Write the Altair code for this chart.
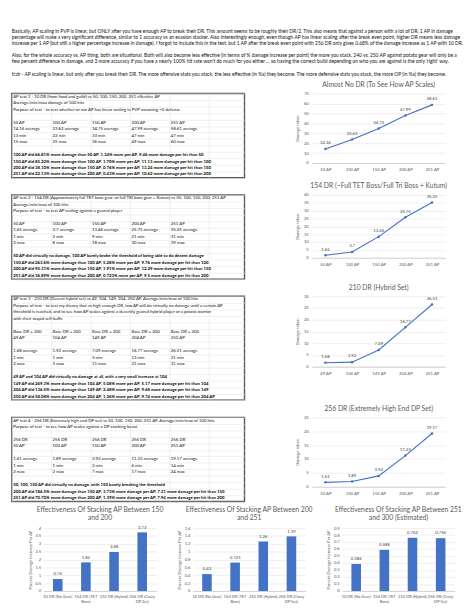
import altair as alt
import pandas as pd

FONT = "Lato"
BLUE = "#4472C4"
GREY = "#595959"

# ---------------- top paragraphs ----------------
intro_lines = [
    "Basically, AP scaling in PVP is linear, but ONLY after you have enough AP to break their DR.  This amount seems to be roughly their DR/2.  This also means that against a person with a lot of DR, 1 AP in damage",
    "percentage will make a very significant difference, similar to 1 accuracy vs an evasion stacker.  Also interestingly enough, even though AP has linear scaling after the break even point, higher DR means less damage",
    "increase per 1 AP (but still a higher percentage increase in damage).  I forgot to include this in the test, but 1 AP after the break even point with 256 DR only gives 0.68% of the damage increase as 1 AP with 10 DR.",
    "",
    "Also, for the whole accuracy vs. AP thing, both are situational.  Both will also become less effective (in terms of % damage increase per point) the more you stack.  240 vs. 250 AP against potato gear will only be a",
    "few percent difference in damage, and 3 more accuracy if you have a nearly 100% hit rate won't do much for you either ... so having the correct build depending on who you are against is the only 'right' way.",
    "",
    "tl;dr - AP scaling is linear, but only after you break their DR.  The more offensive stats you stack, the less effective (in %s) they become. The more defensive stats you stack, the more OP (in %s) they become.",
]

# ---------------- spreadsheet text blocks ----------------
test1 = [
    ("t", "AP test 1 - 10 DR (from food and guild) vs 50, 100, 150, 200, 251 effective AP"),
    ("t", "Average/min/max damage of 100 hits"),
    ("t", "Purpose of test - to test whether or not AP has linear scaling in PVP assuming ~0 defense"),
    None,
    ("c", ["50 AP", "100 AP", "150 AP", "200 AP", "251 AP"]),
    ("c", ["14.16 average", "23.62 average", "34.75 average", "47.99 average", "58.61 average"]),
    ("c", ["13 min", "22 min", "33 min", "47 min", "47 min"]),
    ("c", ["15 max", "25 max", "36 max", "49 max", "60 max"]),
    None,
    ("b", "100 AP did 66.81% more damage than 50 AP, 1.34% more per AP, 9.46 more damage per hit than 50"),
    ("b", "150 AP did 85.22% more damage than 100 AP, 1.70% more per AP, 11.13 more damage per hit than 100"),
    ("b", "200 AP did 38.10% more damage than 150 AP, 0.76% more per AP, 13.24 more damage per hit than 150"),
    ("b", "251 AP did 22.13% more damage than 200 AP, 0.43% more per AP, 10.62 more damage per hit than 200"),
]
test2 = [
    ("t", "AP test 2 - 154 DR (Approximately full TET boss gear, or full TRI boss gear + Kutum) vs 50, 100, 150, 200, 251 AP"),
    ("t", "Average/min/max of 100 hits"),
    ("t", "Purpose of test - to test AP scaling against a geared player"),
    None,
    ("c", ["50 AP", "100 AP", "150 AP", "200 AP", "251 AP"]),
    ("c", ["1.65 average", "3.7 average", "13.46 average", "25.75 average", "35.25 average"]),
    ("c", ["1 min", "2 min", "9 min", "21 min", "31 min"]),
    ("c", ["2 max", "8 max", "18 max", "30 max", "39 max"]),
    None,
    ("b", "50 AP did virtually no damage, 100 AP barely broke the threshold of being able to do decent damage"),
    ("b", "150 AP did 263.6% more damage than 100 AP, 5.28% more per AP, 9.76 more damage per hit than 100"),
    ("b", "200 AP did 95.31% more damage than 150 AP, 1.91% more per AP, 12.29 more damage per hit than 150"),
    ("b", "251 AP did 36.89% more damage than 200 AP, 0.723% more per AP, 9.5 more damage per hit than 200"),
]
test3 = [
    ("t", "AP test 3 - 210 DR (Decent hybrid set) vs 49, 104, 149, 204, 250 AP. Average/min/max of 100 hits"),
    ("t", "Purpose of test - to test my theory that vs high enough DR, low AP will do virtually no damage until a certain AP"),
    ("t", "threshold is reached, and to see how AP scales against a decently geared hybrid player or a potato warrior"),
    ("t", "with their stupid self buffs"),
    None,
    ("c", ["Base DR = 200", "Base DR = 200", "Base DR = 200", "Base DR = 200", "Base DR = 200"]),
    ("c", ["49 AP", "104 AP", "149 AP", "204 AP", "250 AP"]),
    None,
    ("c", ["1.68 average", "1.92 average", "7.09 average", "16.77 average", "26.51 average"]),
    ("c", ["1 min", "1 min", "3 min", "13 min", "21 min"]),
    ("c", ["2 max", "3 max", "11 max", "21 max", "31 max"]),
    None,
    ("b", "49 AP and 104 AP did virtually no damage at all, with a very small increase at 104"),
    ("b", "149 AP did 269.3% more damage than 104 AP, 5.08% more per AP, 5.17 more damage per hit than 104"),
    ("b", "204 AP did 136.5% more damage than 149 AP, 2.48% more per AP, 9.68 more damage per hit than 149"),
    ("b", "250 AP did 58.08% more damage than 204 AP, 1.26% more per AP, 9.74 more damage per hit than 204 AP"),
]
test4 = [
    ("t", "AP test 4 - 256 DR (Extremely high end DP set) vs 50, 100, 150, 200, 251 AP. Average/min/max of 100 hits"),
    ("t", "Purpose of test - to see how AP scales against a DP stacking beast"),
    None,
    ("c", ["256 DR", "256 DR", "256 DR", "256 DR", "256 DR"]),
    ("c", ["50 AP", "100 AP", "150 AP", "200 AP", "251 AP"]),
    None,
    ("c", ["1.61 average", "1.89 average", "3.92 average", "11.23 average", "19.17 average"]),
    ("c", ["1 min", "1 min", "2 min", "6 min", "14 min"]),
    ("c", ["2 max", "2 max", "7 max", "17 max", "24 max"]),
    None,
    ("b", "50, 100, 150 AP did virtually no damage, with 150 barely breaking the threshold"),
    ("b", "200 AP did 186.5% more damage than 150 AP, 3.73% more damage per AP, 7.31 more damage per hit than 150"),
    ("b", "251 AP did 70.70% more damage than 200 AP, 1.39% more damage per AP, 7.94 more damage per hit than 200"),
]

# ---------------- line charts ----------------
line_titles = [
    "Almost No DR (To See How AP Scales)",
    "154 DR (~Full TET Boss/Full Tri Boss + Kutum)",
    "210 DR (Hybrid Set)",
    "256 DR (Extremely High End DP Set)",
]
line_cats = [
    ["50 AP", "100 AP", "150 AP", "200 AP", "251 AP"],
    ["50 AP", "100 AP", "150 AP", "200 AP", "251 AP"],
    ["49 AP", "104 AP", "149 AP", "204 AP", "251 AP"],
    ["50 AP", "100 AP", "150 AP", "200 AP", "251 AP"],
]
line_vals = [
    [14.16, 23.62, 34.75, 47.99, 58.61],
    [1.65, 3.7, 13.46, 25.75, 35.25],
    [1.68, 1.92, 7.09, 16.77, 26.51],
    [1.61, 1.89, 3.92, 11.23, 19.17],
]
line_ticks = [
    [0, 10, 20, 30, 40, 50, 60, 70],
    [0, 5, 10, 15, 20, 25, 30, 35, 40],
    [0, 5, 10, 15, 20, 25, 30],
    [0, 5, 10, 15, 20, 25],
]

# ---------------- bar charts ----------------
bar_cats = ["10 DR (No Gear)", "154 DR (TET Boss)", "210 DR (Hybrid)", "256 DR (Crazy DP Set)"]
bar_breaks = {"154 DR (TET Boss)": ["154 DR (TET", "Boss)"], "256 DR (Crazy DP Set)": ["256 DR (Crazy", "DP Set)"]}
bar_titles = [
    ["Effectiveness Of Stacking AP Between 150", "and 200"],
    ["Effectiveness Of Stacking AP Between 200", "and 251"],
    ["Effectiveness Of Stacking AP Between 251", "and 300 (Estimated)"],
]
bar_vals = [
    [0.76, 1.82, 2.48, 3.73],
    [0.43, 0.723, 1.26, 1.39],
    [0.386, 0.588, 0.762, 0.756],
]
bar_ticks = [
    [0, 0.5, 1, 1.5, 2, 2.5, 3, 3.5, 4],
    [0, 0.2, 0.4, 0.6, 0.8, 1, 1.2, 1.4, 1.6],
    [0, 0.1, 0.2, 0.3, 0.4, 0.5, 0.6, 0.7, 0.8, 0.9],
]

ROW_PX = 6.9
COL_PX = 42
PANEL_W = 248


def intro_chart():
    df = pd.DataFrame({"line": list(range(len(intro_lines))), "text": intro_lines})
    n = len(intro_lines)
    return alt.Chart(df).mark_text(
        align="left", baseline="middle", font=FONT, fontSize=5.2, color="#111"
    ).encode(
        x=alt.value(0),
        y=alt.Y("line:Q", scale=alt.Scale(domain=[-0.5, n - 0.5], reverse=True), axis=None),
        text="text:N",
    ).properties(width=458, height=n * 6.5)


def text_panel(lines):
    recs = []
    for r, item in enumerate(lines):
        if item is None:
            continue
        kind, content = item
        if kind == "c":
            for c, t in enumerate(content):
                recs.append({"row": r, "col": c, "text": t, "bold": False})
        else:
            recs.append({"row": r, "col": 0, "text": content, "bold": kind == "b"})
    df = pd.DataFrame(recs)
    n = len(lines)
    ncol = PANEL_W / COL_PX
    gx = alt.Axis(labels=False, ticks=False, domain=False, grid=True, gridColor="#e4e4e4",
                  gridWidth=0.6, title=None, values=list(range(0, int(ncol) + 1)))
    gy = alt.Axis(labels=False, ticks=False, domain=False, grid=True, gridColor="#e4e4e4",
                  gridWidth=0.6, title=None, values=[i - 0.5 for i in range(n + 1)])
    base = alt.Chart(df).encode(
        x=alt.X("col:Q", scale=alt.Scale(domain=[0, ncol]), axis=gx),
        y=alt.Y("row:Q", scale=alt.Scale(domain=[-0.5, n - 0.5], reverse=True), axis=gy),
        text="text:N",
    )
    normal = base.transform_filter("!datum.bold").mark_text(
        align="left", baseline="middle", dx=1.5, font=FONT, fontSize=4.6, color="#111")
    bold = base.transform_filter("datum.bold").mark_text(
        align="left", baseline="middle", dx=1.5, font=FONT, fontSize=4.6, fontWeight="bold", color="#000")
    return alt.layer(normal, bold).properties(
        width=PANEL_W, height=n * ROW_PX,
        view=alt.ViewBackground(stroke="#5a5a5a", strokeWidth=1.5),
    )


def line_chart(i, h):
    cats, vals, ticks = line_cats[i], line_vals[i], line_ticks[i]
    df = pd.DataFrame({"ap": cats, "v": vals, "lbl": [str(v) for v in vals]})
    base = alt.Chart(df).encode(
        x=alt.X("ap:N", sort=cats, axis=alt.Axis(title=None, labelAngle=0, ticks=False, domainColor="#d0d0d0",
                                                  labelColor=GREY, labelFontSize=4.5, labelFont=FONT, labelPadding=4)),
        y=alt.Y("v:Q", scale=alt.Scale(domain=[ticks[0], ticks[-1]]),
                axis=alt.Axis(values=ticks, title="Damage taken", titleFontSize=4.6, titleFontWeight="normal",
                              titleFont=FONT, titleColor=GREY, labelFontSize=4.5, labelFont=FONT, labelColor=GREY,
                              domain=False, ticks=False, gridColor="#e2e2e2", gridWidth=0.6,
                              titlePadding=4, labelPadding=4)),
    )
    line = base.mark_line(color=BLUE, strokeWidth=1.2)
    pts = base.mark_point(filled=True, size=7, color=BLUE, opacity=1)
    txt = base.mark_text(dy=-6, fontSize=4.5, font=FONT, color="#404040").encode(text="lbl:N")
    return alt.layer(line, pts, txt).properties(
        width=142, height=h,
        title=alt.TitleParams(line_titles[i], fontSize=7.2, font=FONT, fontWeight="normal",
                              color=GREY, anchor="middle", offset=3),
    )


def bar_chart(i):
    vals, ticks = bar_vals[i], bar_ticks[i]
    df = pd.DataFrame({"cat": bar_cats, "v": vals, "lbl": [str(v) for v in vals]})
    parts = []
    for k, v in bar_breaks.items():
        parts.append("datum.label == '%s' ? ['%s', '%s']" % (k, v[0], v[1]))
    label_expr = " : ".join(parts) + " : datum.label"
    base = alt.Chart(df).encode(
        x=alt.X("cat:N", sort=bar_cats, scale=alt.Scale(paddingInner=0.66, paddingOuter=0.33),
                axis=alt.Axis(title=None, labelAngle=0, ticks=False, domainColor="#d0d0d0", labelColor=GREY,
                              labelFontSize=4.3, labelFont=FONT, labelPadding=4, labelExpr=label_expr,
                              labelLineHeight=5.5)),
        y=alt.Y("v:Q", scale=alt.Scale(domain=[ticks[0], ticks[-1]]),
                axis=alt.Axis(values=ticks, format="~g", title="Percent Damage Increase Per AP",
                              titleFontSize=4.4, titleFontWeight="normal", titleFont=FONT, titleColor=GREY,
                              labelFontSize=4.5, labelFont=FONT, labelColor=GREY, domain=False, ticks=False,
                              gridColor="#e2e2e2", gridWidth=0.6, titlePadding=3, labelPadding=3)),
    )
    bars = base.mark_bar(color=BLUE)
    txt = base.mark_text(dy=-5, fontSize=4.5, font=FONT, color="#404040").encode(text="lbl:N")
    return alt.layer(bars, txt).properties(
        width=120, height=67,
        title=alt.TitleParams(bar_titles[i], fontSize=7.2, font=FONT, fontWeight="normal",
                              color=GREY, anchor="middle", offset=4, lineHeight=8.5),
    )


# an empty 1px column so the bar row's left edge lines up with the panels above
spacer = alt.Chart(pd.DataFrame({"a": [0]})).mark_point(opacity=0).encode(
    x=alt.value(0), y=alt.value(0)
).properties(width=1, height=67)

rows = [
    alt.hconcat(text_panel(test1), line_chart(0, 74), spacing=52),
    alt.hconcat(text_panel(test2), line_chart(1, 67), spacing=52),
    alt.hconcat(text_panel(test3), line_chart(2, 75), spacing=52),
    alt.hconcat(text_panel(test4), line_chart(3, 74), spacing=52),
]
bars_row = alt.hconcat(spacer, bar_chart(0), bar_chart(1), bar_chart(2), spacing=12)

chart = alt.vconcat(intro_chart(), *rows, bars_row, spacing=3).configure(
    background="white", padding=0
).configure_view(stroke="transparent")

chart.save("out.html", embed_options={"renderer": "svg", "actions": False})
